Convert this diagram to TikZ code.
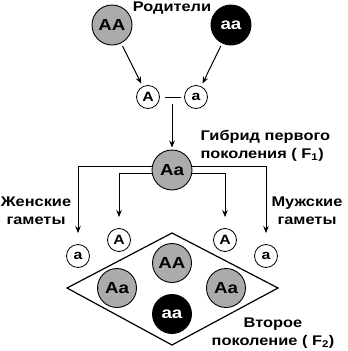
\documentclass[tikz,border=0pt]{standalone}
\usepackage{fontspec}
\setmainfont{Liberation Sans}[FakeStretch=1.17]
\usetikzlibrary{arrows.meta}
\definecolor{alleleGrey}{HTML}{ABABAB}
\begin{document}
\begin{tikzpicture}[x=1pt,y=-1pt,
  geno/.style={circle, draw, line width=0.9pt, minimum size=40pt, inner sep=0pt, font=\fontsize{16}{16}\selectfont\bfseries},
  domgeno/.style={geno, fill=alleleGrey},
  recgeno/.style={geno, fill=black, text=white},
  gamete/.style={circle, draw, line width=0.8pt, minimum size=23pt, inner sep=0pt, font=\fontsize{13.5}{13.5}\selectfont\bfseries},
  caption/.style={align=center, font=\fontsize{14}{18}\selectfont\bfseries},
  link/.style={-{Stealth[length=7pt,width=5.5pt]}, line width=1pt}]
\useasboundingbox (0,0) rectangle (348,351);

% parents
\node[caption] (parents) at (172,8) {Родители};
\node[domgeno] (pAA) at (112,25) {AA};
\node[recgeno] (paa) at (231,25) {aa};

% parental gametes
\node[gamete] (gA) at (148,97) {A};
\node[gamete] (ga) at (196,97) {a};
\coordinate (dashL) at (165,97);
\coordinate (dashR) at (181,97);
\coordinate (fuse) at (172,104);

\draw[link, shorten <=3pt, shorten >=3pt] (pAA) -- (gA);
\draw[link, shorten <=3pt, shorten >=3pt] (paa) -- (ga);
\draw[line width=1pt] (dashL) -- (dashR);

% first generation
\node[domgeno] (f1) at (172,170) {Aa};
\node[caption, anchor=west, align=left] (f1txt) at (197,146)
{Гибрид первого\\поколения ( F\textsubscript{1})};
\draw[link, shorten >=2pt] (fuse) -- (f1);

% gametes of the hybrid
\node[gamete] (gLa) at (78,256) {a};
\node[gamete] (gLA) at (119,240) {A};
\node[gamete] (gRA) at (225,240) {A};
\node[gamete] (gRa) at (266,256) {a};
\node[caption] (female) at (36,211) {Женские\\гаметы};
\node[caption] (male) at (307,211) {Мужские\\гаметы};

\draw[link, shorten >=11pt] (f1.171) -| (gLa);
\draw[link, shorten >=11pt] (f1.191) -| (gLA);
\draw[link, shorten >=11pt] (f1.349) -| (gRA);
\draw[link, shorten >=11pt] (f1.9) -| (gRa);

% second generation
\draw[line width=1.2pt] (172,233) -- (278,288) -- (172,345) -- (67,288) -- cycle;
\node[domgeno, minimum size=39pt] (f2AA) at (172,263) {AA};
\node[domgeno, minimum size=39pt] (f2Aal) at (117,288) {Aa};
\node[domgeno, minimum size=39pt] (f2Aar) at (226,288) {Aa};
\node[recgeno, minimum size=39pt] (f2aa) at (172,314) {aa};
\node[caption] (f2txt) at (273,333) {Второе\\поколение ( F\textsubscript{2})};
\end{tikzpicture}
\end{document}
